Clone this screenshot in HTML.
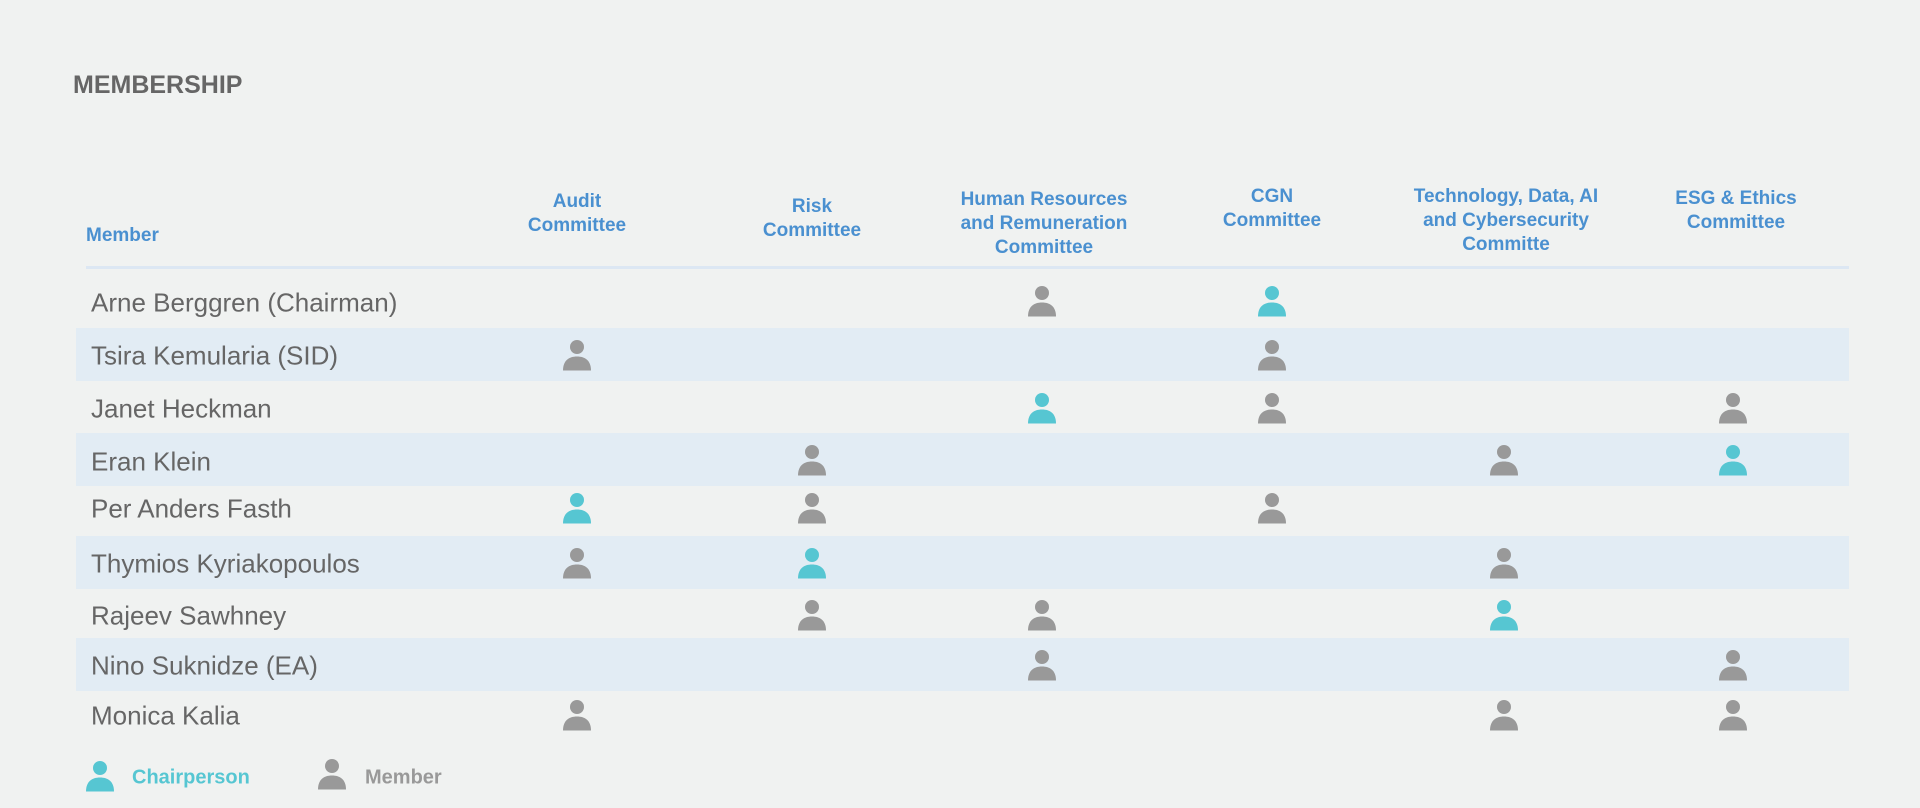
<!DOCTYPE html>
<html><head><meta charset="utf-8"><style>
body{margin:0;width:1920px;height:808px;background:#f0f2f1;position:relative;overflow:hidden;font-family:"Liberation Sans",sans-serif}
.a{position:absolute}
.t{left:73px;top:71px;font-size:25px;font-weight:bold;color:#666}
.h{font-size:19px;font-weight:bold;color:#4a90d0;text-align:center;width:240px;line-height:24px;transform:translate(-50%,-50%)}
.s{left:76px;width:1773px;height:53px;background:#e2ecf4}
.n{left:91px;font-size:26px;color:#666;transform:translateY(-50%)}
.ic{width:28px;height:31px;transform:translate(-50%,-50%)}
.lg{font-size:20px;font-weight:bold;transform:translateY(-50%)}
</style></head><body>
<div class="a t">MEMBERSHIP</div>
<div class="a h" style="left:577px;top:214px">Audit<br>Committee</div>
<div class="a h" style="left:812px;top:219px">Risk<br>Committee</div>
<div class="a h" style="left:1044px;top:224px">Human Resources<br>and Remuneration<br>Committee</div>
<div class="a h" style="left:1272px;top:209px">CGN<br>Committee</div>
<div class="a h" style="left:1506px;top:221px;width:260px">Technology, Data, AI<br>and Cybersecurity<br>Committe</div>
<div class="a h" style="left:1736px;top:211px">ESG &amp; Ethics<br>Committee</div>
<div class="a h" style="left:86px;top:224px;transform:none;text-align:left;width:auto">Member</div>
<div class="a" style="left:86px;top:266px;width:1763px;height:3px;background:#dce7f3"></div>
<div class="a s" style="top:328px"></div>
<div class="a s" style="top:433px"></div>
<div class="a s" style="top:536px"></div>
<div class="a s" style="top:638px"></div>
<div class="a n" style="top:303px">Arne Berggren (Chairman)</div>
<div class="a n" style="top:356px">Tsira Kemularia (SID)</div>
<div class="a n" style="top:409px">Janet Heckman</div>
<div class="a n" style="top:462px">Eran Klein</div>
<div class="a n" style="top:509px">Per Anders Fasth</div>
<div class="a n" style="top:564px">Thymios Kyriakopoulos</div>
<div class="a n" style="top:616px">Rajeev Sawhney</div>
<div class="a n" style="top:666px">Nino Suknidze (EA)</div>
<div class="a n" style="top:716px">Monica Kalia</div>
<div class="a lg" style="left:132px;top:778px;color:#56c6d2">Chairperson</div>
<div class="a lg" style="left:365px;top:778px;color:#999">Member</div>
<div id="icons"></div>
<script>
var cols=[577,812,1042,1272,1504,1733],rows=[301,355,408,460,508,563,615,665,715];
var d=[[0,2,'m'],[0,3,'c'],[1,0,'m'],[1,3,'m'],[2,2,'c'],[2,3,'m'],[2,5,'m'],[3,1,'m'],[3,4,'m'],[3,5,'c'],
[4,0,'c'],[4,1,'m'],[4,3,'m'],[5,0,'m'],[5,1,'c'],[5,4,'m'],[6,1,'m'],[6,2,'m'],[6,4,'c'],[7,2,'m'],[7,5,'m'],[8,0,'m'],[8,4,'m'],[8,5,'m']];
function ic(x,y,c){var col=c=='c'?'#56c6d2':'#999';
return '<svg class="a ic" style="left:'+x+'px;top:'+y+'px" viewBox="0 0 28 31"><circle cx="14" cy="7.5" r="7" fill="'+col+'"/><path d="M0 31 C0 21 6 17 14 17 C22 17 28 21 28 31Z" fill="'+col+'"/></svg>';}
var h='';d.forEach(function(e){h+=ic(cols[e[1]],rows[e[0]],e[2]);});
h+=ic(100,776,'c')+ic(332,774,'m');
document.getElementById('icons').innerHTML=h;
</script>
</body></html>
